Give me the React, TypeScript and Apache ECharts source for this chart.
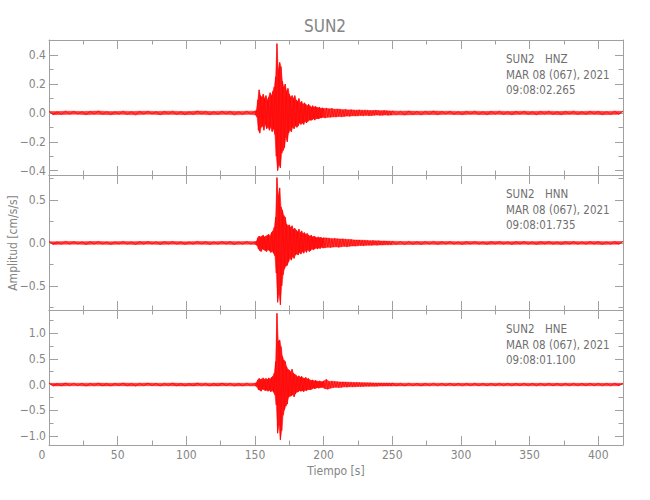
import React, { useEffect, useRef } from 'react';
import * as echarts from 'echarts';

// ---------- axis ticks ----------
const X_MAX = 418;
const xMajorTicks = [0, 50, 100, 150, 200, 250, 300, 350, 400];
const xMinorTicks = [25, 75, 125, 175, 225, 275, 325, 375];

const zMajorTicks = [-0.4, -0.2, 0, 0.2, 0.4];
const zMinorTicks = [-0.3, -0.1, 0.1, 0.3];
const nMajorTicks = [-0.5, 0, 0.5];
const nMinorTicks = [-0.75, -0.25, 0.25, 0.75];
const eMajorTicks = [-1, -0.5, 0, 0.5, 1];
const eMinorTicks = [-0.75, -0.25, 0.25, 0.75, 1.25];

// ---------- sample timing of the read-off values (s) ----------
const PRE_START = 0, PRE_STEP = 3;
const MAIN_START = 150, MAIN_STEP = 0.5;
const CODA_START = 200, CODA_STEP = 1;
const TAIL_START = 250, TAIL_STEP = 3;

// ---------- HNZ ----------
const zPre = [
  0.010, -0.012, 0.009, -0.011, 0.012, -0.010, 0.011, -0.009, 0.010, -0.012,
  0.011, -0.010, 0.013, -0.011, 0.010, -0.012, 0.009, -0.010, 0.012, -0.011,
  0.010, -0.013, 0.011, -0.010, 0.012, -0.009, 0.010, -0.012, 0.011, -0.010,
  0.012, -0.011, 0.010, -0.012, 0.009, -0.011, 0.013, -0.010, 0.011, -0.012,
  0.010, -0.011, 0.012, -0.010, 0.011, -0.013, 0.010, -0.011, 0.012, -0.010,
];
const zMain = [
  0.012, -0.015, 0.02, -0.03, 0.09, -0.12, 0.16, -0.14, 0.12, -0.10,
  0.11, -0.09, 0.13, -0.12, 0.10, -0.08, 0.12, -0.11, 0.09, -0.10,
  0.11, -0.12, 0.14, -0.10, 0.12, -0.13, 0.15, -0.11, 0.18, -0.15,
  0.25, -0.30, 0.48, -0.40, 0.30, -0.36, 0.35, -0.38, 0.32, -0.28,
  0.22, -0.26, 0.18, -0.24, 0.20, -0.17, 0.15, -0.20, 0.17, -0.14,
  0.13, -0.12, 0.11, -0.13, 0.12, -0.10, 0.10, -0.11, 0.12, -0.09,
  0.09, -0.10, 0.08, -0.09, 0.10, -0.07, 0.07, -0.08, 0.08, -0.07,
  0.06, -0.08, 0.07, -0.06, 0.06, -0.07, 0.05, -0.06, 0.06, -0.05,
  0.05, -0.05, 0.04, -0.05, 0.05, -0.04, 0.04, -0.05, 0.045, -0.04,
  0.04, -0.04, 0.035, -0.04, 0.04, -0.035, 0.03, -0.035, 0.035, -0.03,
];
const zCoda = [
  0.03, -0.035, 0.032, -0.03, 0.028, -0.03, 0.03, -0.027, 0.025, -0.028,
  0.027, -0.024, 0.025, -0.026, 0.022, -0.024, 0.024, -0.022, 0.021, -0.023,
  0.022, -0.02, 0.02, -0.021, 0.019, -0.02, 0.021, -0.018, 0.018, -0.02,
  0.019, -0.017, 0.018, -0.019, 0.016, -0.018, 0.017, -0.016, 0.018, -0.015,
  0.016, -0.017, 0.015, -0.016, 0.017, -0.014, 0.015, -0.016, 0.014, -0.015,
];
const zTail = [
  0.014, -0.013, 0.012, -0.014, 0.013, -0.012, 0.011, -0.013, 0.012, -0.011,
  0.013, -0.012, 0.011, -0.010, 0.012, -0.011, 0.010, -0.012, 0.011, -0.010,
  0.012, -0.011, 0.010, -0.012, 0.011, -0.010, 0.012, -0.011, 0.010, -0.012,
  0.011, -0.010, 0.012, -0.011, 0.010, -0.012, 0.011, -0.010, 0.012, -0.011,
  0.010, -0.012, 0.011, -0.010, 0.012, -0.011, 0.010, -0.011, 0.012, -0.010,
  0.011, -0.012, 0.010, -0.011, 0.012, -0.010, 0.011,
];

// ---------- HNN ----------
const nPre = [
  0.015, -0.017, 0.014, -0.016, 0.018, -0.015, 0.016, -0.014, 0.015, -0.018,
  0.016, -0.015, 0.017, -0.016, 0.014, -0.017, 0.015, -0.014, 0.018, -0.016,
  0.015, -0.018, 0.016, -0.015, 0.017, -0.014, 0.015, -0.017, 0.016, -0.015,
  0.017, -0.016, 0.015, -0.017, 0.014, -0.016, 0.018, -0.015, 0.016, -0.017,
  0.015, -0.016, 0.017, -0.015, 0.016, -0.018, 0.015, -0.016, 0.017, -0.015,
];
const nMain = [
  0.015, -0.018, 0.02, -0.03, 0.06, -0.07, 0.08, -0.09, 0.07, -0.10,
  0.08, -0.07, 0.09, -0.08, 0.07, -0.09, 0.08, -0.10, 0.09, -0.08,
  0.10, -0.09, 0.08, -0.11, 0.12, -0.10, 0.14, -0.12, 0.18, -0.15,
  0.30, -0.35, 0.76, -0.69, 0.55, -0.60, 0.64, -0.72, 0.42, -0.50,
  0.38, -0.37, 0.32, -0.30, 0.30, -0.27, 0.22, -0.26, 0.20, -0.22,
  0.21, -0.18, 0.18, -0.20, 0.20, -0.16, 0.16, -0.18, 0.17, -0.14,
  0.15, -0.13, 0.13, -0.14, 0.16, -0.11, 0.12, -0.13, 0.14, -0.10,
  0.11, -0.12, 0.12, -0.09, 0.10, -0.11, 0.11, -0.08, 0.09, -0.10,
  0.08, -0.09, 0.09, -0.07, 0.07, -0.08, 0.08, -0.07, 0.07, -0.06,
  0.06, -0.07, 0.07, -0.06, 0.06, -0.065, 0.065, -0.05, 0.055, -0.06,
];
const nCoda = [
  0.06, -0.055, 0.058, -0.05, 0.055, -0.052, 0.05, -0.048, 0.052, -0.045,
  0.048, -0.05, 0.045, -0.043, 0.047, -0.04, 0.042, -0.044, 0.04, -0.038,
  0.039, -0.036, 0.035, -0.037, 0.034, -0.032, 0.033, -0.03, 0.031, -0.032,
  0.03, -0.028, 0.029, -0.027, 0.026, -0.028, 0.027, -0.025, 0.024, -0.026,
  0.025, -0.023, 0.022, -0.024, 0.023, -0.021, 0.021, -0.022, 0.02, -0.021,
];
const nTail = [
  0.019, -0.018, 0.017, -0.019, 0.018, -0.017, 0.016, -0.018, 0.017, -0.016,
  0.018, -0.017, 0.016, -0.015, 0.017, -0.016, 0.015, -0.017, 0.016, -0.015,
  0.017, -0.016, 0.015, -0.017, 0.016, -0.015, 0.017, -0.016, 0.015, -0.017,
  0.016, -0.015, 0.017, -0.016, 0.015, -0.017, 0.016, -0.015, 0.017, -0.016,
  0.015, -0.017, 0.016, -0.015, 0.017, -0.016, 0.015, -0.016, 0.017, -0.015,
  0.016, -0.017, 0.015, -0.016, 0.017, -0.015, 0.016,
];

// ---------- HNE ----------
const ePre = [
  0.025, -0.028, 0.023, -0.026, 0.029, -0.024, 0.026, -0.023, 0.025, -0.029,
  0.026, -0.025, 0.028, -0.026, 0.024, -0.027, 0.025, -0.023, 0.029, -0.026,
  0.025, -0.029, 0.026, -0.024, 0.028, -0.023, 0.025, -0.027, 0.026, -0.024,
  0.028, -0.026, 0.024, -0.028, 0.023, -0.026, 0.029, -0.025, 0.026, -0.027,
  0.025, -0.026, 0.028, -0.024, 0.026, -0.029, 0.024, -0.026, 0.027, -0.025,
];
const eMain = [
  0.025, -0.03, 0.04, -0.05, 0.09, -0.10, 0.12, -0.11, 0.10, -0.13,
  0.11, -0.09, 0.13, -0.10, 0.10, -0.12, 0.12, -0.11, 0.10, -0.13,
  0.13, -0.11, 0.11, -0.14, 0.14, -0.12, 0.16, -0.15, 0.22, -0.20,
  0.45, -0.40, 1.39, -0.95, 0.85, -0.80, 0.87, -1.08, 0.74, -0.90,
  0.55, -0.60, 0.48, -0.49, 0.45, -0.42, 0.35, -0.38, 0.30, -0.25,
  0.28, -0.23, 0.25, -0.22, 0.30, -0.20, 0.22, -0.24, 0.20, -0.18,
  0.18, -0.15, 0.15, -0.14, 0.17, -0.12, 0.14, -0.13, 0.16, -0.12,
  0.13, -0.14, 0.12, -0.11, 0.14, -0.12, 0.11, -0.10, 0.12, -0.10,
  0.09, -0.10, 0.08, -0.09, 0.09, -0.07, 0.07, -0.08, 0.08, -0.07,
  0.07, -0.06, 0.06, -0.07, 0.07, -0.06, 0.06, -0.055, 0.055, -0.06,
];
const eCoda = [
  0.07, -0.08, 0.10, -0.09, 0.06, -0.07, 0.065, -0.06, 0.06, -0.055,
  0.055, -0.06, 0.05, -0.055, 0.05, -0.045, 0.048, -0.05, 0.045, -0.042,
  0.043, -0.045, 0.04, -0.042, 0.041, -0.038, 0.038, -0.04, 0.037, -0.036,
  0.036, -0.034, 0.034, -0.035, 0.033, -0.031, 0.032, -0.033, 0.03, -0.031,
  0.031, -0.029, 0.03, -0.03, 0.029, -0.028, 0.03, -0.028, 0.028, -0.029,
];
const eTail = [
  0.028, -0.026, 0.025, -0.027, 0.026, -0.025, 0.024, -0.026, 0.025, -0.024,
  0.026, -0.025, 0.024, -0.023, 0.025, -0.024, 0.023, -0.025, 0.024, -0.023,
  0.025, -0.024, 0.023, -0.025, 0.024, -0.023, 0.025, -0.024, 0.023, -0.025,
  0.024, -0.023, 0.025, -0.024, 0.023, -0.025, 0.024, -0.023, 0.025, -0.024,
  0.023, -0.025, 0.024, -0.023, 0.025, -0.024, 0.023, -0.024, 0.025, -0.023,
  0.024, -0.025, 0.023, -0.024, 0.025, -0.023, 0.024,
];

// ---------- panel header texts ----------
const stationName = 'SUN2';
const channels = ['HNZ', 'HNN', 'HNE'];
const dateLabel = 'MAR 08 (067), 2021';
const startTimes = ['09:08:02.265', '09:08:01.735', '09:08:01.100'];
const yRanges: [number, number][] = [[-0.43, 0.505], [-0.78, 0.79], [-1.18, 1.455]];

const FONT = "'DejaVu Sans Condensed', 'Liberation Sans', sans-serif";
const AXIS_COLOR = '#a0a0a0';
const TEXT_COLOR = '#858585';

function buildTrace(pre: number[], main: number[], coda: number[], tail: number[]) {
  const pts: [number, number][] = [];
  pre.forEach((v, i) => pts.push([PRE_START + i * PRE_STEP, v]));
  main.forEach((v, i) => pts.push([MAIN_START + i * MAIN_STEP, v]));
  coda.forEach((v, i) => pts.push([CODA_START + i * CODA_STEP, v]));
  tail.forEach((v, i) => pts.push([TAIL_START + i * TAIL_STEP, v]));
  return pts.filter((p) => p[0] <= X_MAX);
}

const fmtY = (v: number) => {
  const s = Math.abs(v).toFixed(1);
  return v < 0 ? '\u2212' + s : s;
};

export default function App() {
  const ref = useRef<HTMLDivElement>(null);
  useEffect(() => {
    document.body.style.margin = '0';
    if (!ref.current) return;
    const chart = echarts.init(ref.current, undefined, { renderer: 'svg' });

    const traces = [
      buildTrace(zPre, zMain, zCoda, zTail),
      buildTrace(nPre, nMain, nCoda, nTail),
      buildTrace(ePre, eMain, eCoda, eTail),
    ];
    const majors = [zMajorTicks, nMajorTicks, eMajorTicks];
    const minors = [zMinorTicks, nMinorTicks, eMinorTicks];

    const GRID_LEFT = 49;
    const GRID_RIGHT = 27;
    const GRID_TOP = 40;
    const GRID_H = 135;

    const grids: any[] = [];
    const xAxes: any[] = [];
    const yAxes: any[] = [];
    const series: any[] = [];
    const graphics: any[] = [];
    const lineStyle = { color: AXIS_COLOR, width: 1 };

    for (let g = 0; g < 3; g++) {
      const top = GRID_TOP + g * GRID_H;
      grids.push({ left: GRID_LEFT, right: GRID_RIGHT, top, height: GRID_H, containLabel: false });
      const [yMin, yMax] = yRanges[g];
      const isLast = g === 2;
      const mkX = (position: string, ticks: number[], len: number, line: boolean, labels: boolean) => ({
        type: 'value', gridIndex: g, position, min: 0, max: X_MAX,
        axisLine: { show: line, onZero: false, lineStyle },
        axisTick: { show: true, inside: true, length: len, customValues: ticks, lineStyle },
        axisLabel: labels
          ? {
              show: true, customValues: xMajorTicks, color: TEXT_COLOR, fontSize: 12, fontFamily: FONT, margin: 4,
              formatter: (v: number) => (v === 0 ? '{z|0}' : String(v)),
              rich: { z: { padding: [0, 14, 0, 0], color: TEXT_COLOR, fontSize: 12, fontFamily: FONT } },
            }
          : { show: false },
        splitLine: { show: false },
      });
      xAxes.push(mkX('bottom', xMajorTicks, 9, true, isLast));
      xAxes.push(mkX('bottom', xMinorTicks, 4.5, false, false));
      xAxes.push(mkX('top', xMajorTicks, 9, true, false));
      xAxes.push(mkX('top', xMinorTicks, 4.5, false, false));

      const mkY = (position: string, ticks: number[], len: number, line: boolean, labels: boolean) => ({
        type: 'value', gridIndex: g, position, min: yMin, max: yMax,
        axisLine: { show: line, onZero: false, lineStyle },
        axisTick: { show: true, inside: true, length: len, customValues: ticks, lineStyle },
        axisLabel: labels
          ? { show: true, customValues: ticks, formatter: fmtY, color: TEXT_COLOR, fontSize: 12, fontFamily: FONT, margin: 3 }
          : { show: false },
        splitLine: { show: false },
      });
      yAxes.push(mkY('left', majors[g], 9, true, true));
      yAxes.push(mkY('left', minors[g], 4.5, false, false));
      yAxes.push(mkY('right', majors[g], 8, true, false));
      yAxes.push(mkY('right', minors[g], 4.5, false, false));

      const trace = traces[g];
      // filled envelope of the trace (positive peaks above, negative peaks below)
      series.push({
        type: 'custom', xAxisIndex: g * 4, yAxisIndex: g * 4, data: trace, silent: true, clip: true, z: 1,
        renderItem: (params: any, api: any) => {
          if (params.dataIndex !== 0) return null;
          const up = trace.filter((p) => p[1] >= 0).map((p) => api.coord(p));
          const lo = trace.filter((p) => p[1] < 0).map((p) => api.coord(p)).reverse();
          return {
            type: 'polygon',
            shape: { points: up.concat(lo) },
            style: { fill: 'rgba(255,20,20,0.82)', stroke: 'rgba(255,0,0,0.7)', lineWidth: 0.6 },
          };
        },
      });
      series.push({
        type: 'line', xAxisIndex: g * 4, yAxisIndex: g * 4, data: trace,
        showSymbol: false, symbol: 'none', silent: true,
        lineStyle: { color: '#ff0000', width: 0.7 }, z: 2,
      });

      const tStyle = { fill: '#707070', fontSize: 11.5, fontFamily: FONT, textVerticalAlign: 'top' };
      graphics.push({ type: 'text', x: 506, y: top + 13, style: { ...tStyle, text: stationName } });
      graphics.push({ type: 'text', x: 545, y: top + 13, style: { ...tStyle, text: channels[g] } });
      graphics.push({ type: 'text', x: 506, y: top + 28.5, style: { ...tStyle, text: dateLabel } });
      graphics.push({ type: 'text', x: 506, y: top + 44, style: { ...tStyle, text: startTimes[g] } });
    }

    graphics.push({
      type: 'text', x: 13, y: 243, rotation: Math.PI / 2,
      style: { text: 'Amplitud [cm/s/s]', fill: TEXT_COLOR, fontSize: 12, fontFamily: FONT, textAlign: 'center', textVerticalAlign: 'middle' },
    });
    graphics.push({
      type: 'text', x: 336, y: 471,
      style: { text: 'Tiempo [s]', fill: TEXT_COLOR, fontSize: 12, fontFamily: FONT, textAlign: 'center', textVerticalAlign: 'middle' },
    });

    chart.setOption({
      animation: false,
      backgroundColor: '#ffffff',
      title: {
        text: stationName, left: 'center', top: 12,
        textStyle: { color: TEXT_COLOR, fontSize: 17, fontWeight: 'normal', fontFamily: FONT },
      },
      grid: grids,
      xAxis: xAxes,
      yAxis: yAxes,
      series,
      graphic: graphics,
    });
    return () => chart.dispose();
  }, []);
  return <div ref={ref} style={{ width: 650, height: 500 }} />;
}
